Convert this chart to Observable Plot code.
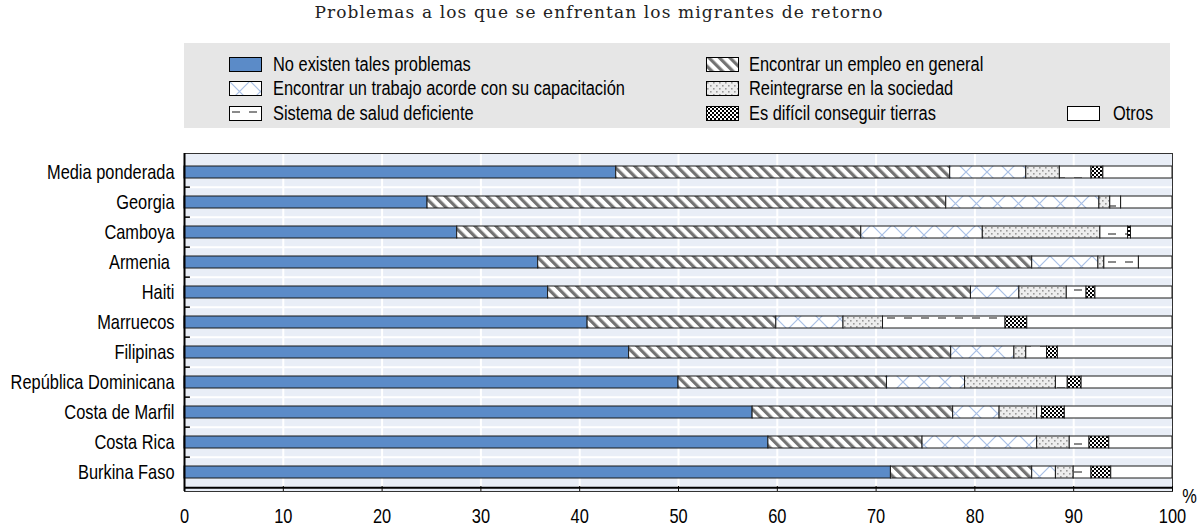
<!DOCTYPE html>
<html>
<head>
<meta charset="utf-8">
<script src="https://cdn.jsdelivr.net/npm/d3@7"></script>
<script src="https://cdn.jsdelivr.net/npm/@observablehq/plot@0.6"></script>
<style>
  body { margin: 0; width: 1198px; height: 525px; position: relative; background: #fff; overflow: hidden;
         font-family: "Liberation Sans", Arial, sans-serif; color: #000; }
  #title { position: absolute; left: 0; top: 2px; width: 1198px; text-align: center;
           font-family: "DejaVu Serif", serif; font-size: 17px; letter-spacing: 1.1px; color: #222; }
  #legend { position: absolute; left: 184px; top: 43px; width: 986px; height: 85px; background: #e6e6e6; }
  .item { position: absolute; height: 24px; display: flex; align-items: center; font-size: 20px; white-space: nowrap; }
  .item svg { display: block; flex: none; }
  .item span { display: inline-block; transform: scaleX(0.82); transform-origin: left center; }
  #chart { position: absolute; left: 0; top: 130px; }
</style>
</head>
<body>
<svg width="0" height="0" style="position:absolute">
  <defs>
    <pattern id="pHatch" patternUnits="userSpaceOnUse" width="7.4" height="7.4" patternTransform="rotate(-45)">
      <rect width="7.4" height="7.4" fill="#ffffff"/>
      <rect x="0" width="3.2" height="7.4" fill="#737373"/>
    </pattern>
    <pattern id="pCross" patternUnits="userSpaceOnUse" width="21" height="21">
      <rect width="21" height="21" fill="#ffffff"/>
      <path d="M0,0L21,21M21,0L0,21" stroke="#a9c0e6" stroke-width="1.2"/>
    </pattern>
    <pattern id="pDots" patternUnits="userSpaceOnUse" width="6" height="6">
      <rect width="6" height="6" fill="#ededed"/>
      <rect x="1" y="1" width="1.6" height="1.6" fill="#9a9a9a"/>
      <rect x="4" y="4" width="1.6" height="1.6" fill="#9a9a9a"/>
    </pattern>
    <pattern id="pHealth" patternUnits="userSpaceOnUse" width="17" height="14">
      <rect width="17" height="14" fill="#ffffff"/>
      <rect x="3" y="5" width="8" height="2" fill="#8a8a8a"/>
    </pattern>
    <pattern id="pLand" patternUnits="userSpaceOnUse" width="4" height="4">
      <rect width="4" height="4" fill="#ffffff"/>
      <rect width="2" height="2" fill="#000000"/>
      <rect x="2" y="2" width="2" height="2" fill="#000000"/>
    </pattern>
  </defs>
</svg>
<div id="title">Problemas a los que se enfrentan los migrantes de retorno</div>
<div id="legend"></div>
<div id="chart"></div>
<script>
// ---- data ----
const countries = ["Media ponderada", "Georgia", "Camboya", "Armenia ", "Haiti", "Marruecos", "Filipinas",
  "República Dominicana", "Costa de Marfil", "Costa Rica", "Burkina Faso"];
const seriesNames = ["No existen tales problemas", "Encontrar un empleo en general",
  "Encontrar un trabajo acorde con su capacitación", "Reintegrarse en la sociedad",
  "Sistema de salud deficiente", "Es difícil conseguir tierras", "Otros"];
const noProblems   = [43.7, 24.6, 27.6, 35.8, 36.8, 40.8, 45.0, 50.0, 57.5, 59.1, 71.5];
const jobGeneral   = [33.8, 52.5, 40.9, 50.0, 42.8, 19.1, 32.6, 21.1, 20.3, 15.6, 14.3];
const jobSkills    = [ 7.7, 15.5, 12.3,  6.7,  4.9,  6.8,  6.4,  7.9,  4.7, 11.6,  2.4];
const reintegrate  = [ 3.4,  1.1, 11.9,  0.6,  4.8,  4.0,  1.2,  9.2,  3.8,  3.3,  1.8];
const health       = [ 3.2,  1.1,  2.8,  3.5,  2.0, 12.4,  2.1,  1.2,  0.5,  2.0,  1.8];
const land         = [ 1.2,  0.0,  0.3,  0.0,  0.9,  2.2,  1.1,  1.4,  2.3,  2.0,  2.0];
const others       = [ 7.0,  5.2,  4.2,  3.4,  7.8, 14.7, 11.6,  9.2, 10.9,  6.4,  6.2];
const xTicks = [0, 10, 20, 30, 40, 50, 60, 70, 80, 90, 100];

// ---- styles ----
const fills = ["#5b8bc8", "url(#pHatch)", "url(#pCross)", "url(#pDots)", "url(#pHealth)", "url(#pLand)", "#ffffff"];
const legendPos = [[229, 52], [706, 52], [229, 76.5], [706, 76.5], [229, 101], [706, 101], [1067, 101]];
const legendGap = [44, 43, 44, 43, 44, 43, 46];

const allSeries = [noProblems, jobGeneral, jobSkills, reintegrate, health, land, others];
const table = [];
countries.forEach((c, i) => {
  seriesNames.forEach((s, j) => table.push({country: c, series: s, value: allSeries[j][i]}));
});

// legend
const legend = document.getElementById("legend");
seriesNames.forEach((s, j) => {
  const it = document.createElement("div");
  it.className = "item";
  it.style.left = (legendPos[j][0] - 184) + "px";
  it.style.top = (legendPos[j][1] - 43) + "px";
  it.innerHTML = `<svg width="33" height="15"><rect x="0.5" y="0.5" width="32" height="14" fill="${fills[j]}" stroke="#000" stroke-width="1"/></svg><span style="margin-left:${legendGap[j] - 33}px">${s}</span>`;
  legend.appendChild(it);
});

const H = 395, mTop = 23, mBottom = 34;
const step = (H - mTop - mBottom) / countries.length;

const chart = Plot.plot({
  width: 1198,
  height: H,
  marginLeft: 184,
  marginRight: 26,
  marginTop: mTop,
  marginBottom: mBottom,
  x: {domain: [0, 100], label: null},
  y: {domain: countries, paddingInner: 0.6, paddingOuter: 0.3, label: null},
  color: {type: "ordinal", domain: seriesNames, range: fills},
  style: {fontFamily: '"Liberation Sans", Arial, sans-serif',
          fontSize: "20px", color: "#000", background: "transparent", overflow: "visible"},
  marks: [
    Plot.frame({fill: "#e9eef7", stroke: null}),
    Plot.ruleX(xTicks.slice(1, -1), {stroke: "#ffffff", strokeWidth: 2}),
    Plot.ruleY(countries.slice(1), {y: d => d, dy: -step / 2, stroke: "#ffffff", strokeWidth: 2}),
    Plot.barX(table, Plot.stackX({x: "value", y: "country", fill: "series", stroke: "#1a1a1a", strokeWidth: 1})),
    Plot.frame({stroke: "#333", strokeWidth: 1}),
    Plot.ruleX([0], {stroke: "#000", strokeWidth: 2}),
    Plot.ruleY(countries.slice(-1), {y: d => d, dy: step / 2, stroke: "#000", strokeWidth: 2}),
    Plot.ruleY(countries.slice(1), {y: d => d, dy: -step / 2, x1: 0, x2: 0.6, stroke: "#000", strokeWidth: 1.5}),
    Plot.axisX(xTicks, {anchor: "bottom", tickSize: -5, tickPadding: 22, label: null, stroke: "#000", fill: "#000"}),
    Plot.axisY({tickSize: 0, tickPadding: 10, label: null, fill: "#000"}),
    Plot.text(["%"], {frameAnchor: "bottom-right", dx: 17, dy: 11, textAnchor: "middle", fill: "#000"})
  ]
});

// emulate a narrow sans face (Arial Narrow ≈ 82% width of Arial); y offsets (em) are left untouched
chart.querySelectorAll("text").forEach(t => {
  const xa = t.getAttribute("x");
  const x = xa != null && /^-?[\d.]+$/.test(xa) ? +xa : 0;
  if (x !== 0) t.removeAttribute("x");
  const tr = t.getAttribute("transform") || "";
  t.setAttribute("transform", `${tr} translate(${x},0) scale(0.82,1)`);
});
document.getElementById("chart").appendChild(chart);
</script>
</body>
</html>
